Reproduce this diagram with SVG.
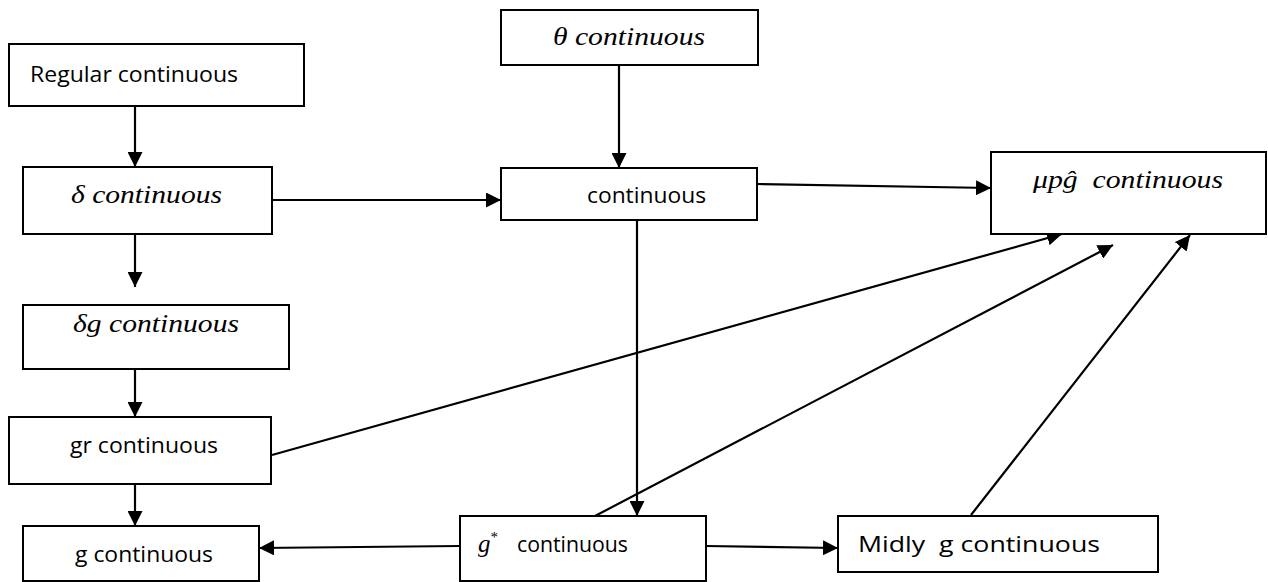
<svg xmlns="http://www.w3.org/2000/svg" width="1268" height="582" viewBox="0 0 1268 582">
<style>
.box{fill:#fff;stroke:#000;stroke-width:2}
.sans{font-family:"Open Sans","Liberation Sans",sans-serif;font-size:22px;fill:#000}
.math{font-family:"Liberation Serif","DejaVu Serif",serif;font-style:italic;font-size:25px;fill:#000}
.edge{stroke:#000;stroke-width:2.2;fill:none}
</style>
<defs>
<marker id="ah" markerUnits="userSpaceOnUse" markerWidth="16" markerHeight="15" refX="15" refY="7.5" orient="auto">
<path d="M0,0 L15,7.5 L0,15 z" fill="#000"/>
</marker>
</defs>
<rect width="1268" height="582" fill="#fff"/>
<g id="connectors">
<line class="edge" x1="135" y1="106" x2="135" y2="167" marker-end="url(#ah)"/>
<line class="edge" x1="272" y1="200" x2="501" y2="200" marker-end="url(#ah)"/>
<line class="edge" x1="135" y1="231" x2="135" y2="287" marker-end="url(#ah)"/>
<line class="edge" x1="135" y1="361" x2="135" y2="417" marker-end="url(#ah)"/>
<line class="edge" x1="135" y1="484" x2="135" y2="526" marker-end="url(#ah)"/>
<line class="edge" x1="619" y1="65" x2="619" y2="168" marker-end="url(#ah)"/>
<line class="edge" x1="757" y1="184" x2="991" y2="188" marker-end="url(#ah)"/>
<line class="edge" x1="637" y1="220" x2="637" y2="516" marker-end="url(#ah)"/>
<line class="edge" x1="272" y1="455" x2="1062" y2="234" marker-end="url(#ah)"/>
<line class="edge" x1="595" y1="516" x2="1113" y2="245" marker-end="url(#ah)"/>
<line class="edge" x1="971" y1="515" x2="1190" y2="235" marker-end="url(#ah)"/>
<line class="edge" x1="460" y1="546" x2="259" y2="548" marker-end="url(#ah)"/>
<line class="edge" x1="706" y1="546" x2="838" y2="548" marker-end="url(#ah)"/>
</g>
<g id="regular">
<rect class="box" x="9" y="44" width="295" height="62"/>
<text class="sans" x="30" y="82" textLength="208" lengthAdjust="spacingAndGlyphs">Regular continuous</text>
</g>
<g id="delta">
<rect class="box" x="23" y="167" width="249" height="67"/>
<text class="math" x="71" y="203" textLength="151" lengthAdjust="spacingAndGlyphs">δ continuous</text>
</g>
<g id="deltag">
<rect class="box" x="23" y="305" width="266" height="64"/>
<text class="math" x="73" y="332" textLength="166" lengthAdjust="spacingAndGlyphs">δg continuous</text>
</g>
<g id="gr">
<rect class="box" x="9" y="417" width="262" height="67"/>
<text class="sans" x="70" y="453" textLength="148" lengthAdjust="spacingAndGlyphs">gr continuous</text>
</g>
<g id="g">
<rect class="box" x="23" y="526" width="236" height="55"/>
<text class="sans" x="75" y="562" textLength="138" lengthAdjust="spacingAndGlyphs">g continuous</text>
</g>
<g id="theta">
<rect class="box" x="501" y="10" width="257" height="55"/>
<text class="math" x="553" y="45" textLength="152" lengthAdjust="spacingAndGlyphs">θ continuous</text>
</g>
<g id="continuous">
<rect class="box" x="501" y="168" width="256" height="52"/>
<text class="sans" x="587" y="203" textLength="119" lengthAdjust="spacingAndGlyphs">continuous</text>
</g>
<g id="mupg">
<rect class="box" x="991" y="152" width="275" height="82"/>
<text class="math" x="1033" y="188" textLength="190" lengthAdjust="spacingAndGlyphs" xml:space="preserve">μpĝ  continuous</text>
</g>
<g id="gstar">
<rect class="box" x="460" y="516" width="246" height="65"/>
<text class="math" x="478" y="552">g<tspan font-size="15" dy="-10" font-style="normal">*</tspan></text>
<text class="sans" x="517" y="552" textLength="111" lengthAdjust="spacingAndGlyphs">continuous</text>
</g>
<g id="midly">
<rect class="box" x="838" y="516" width="320" height="56"/>
<text class="sans" x="858" y="552" textLength="242" lengthAdjust="spacingAndGlyphs" xml:space="preserve">Midly  g continuous</text>
</g>
</svg>
